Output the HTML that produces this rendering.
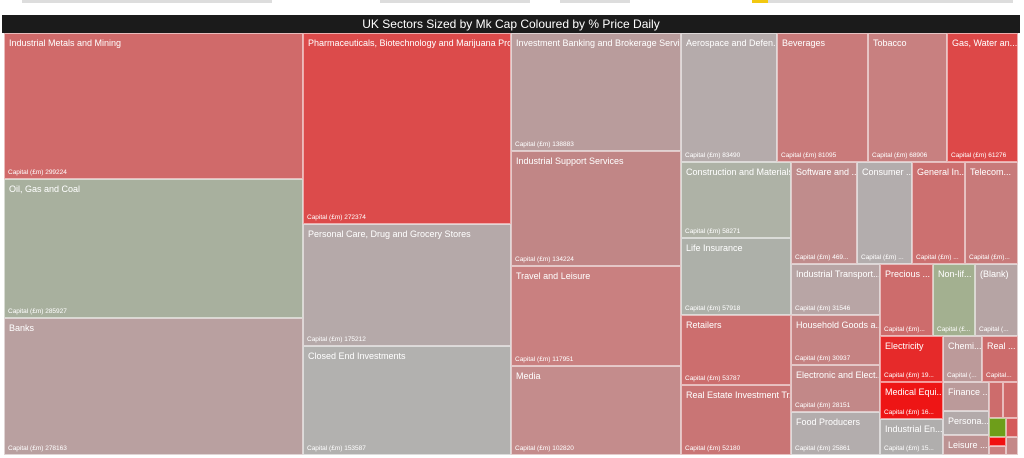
<!DOCTYPE html>
<html><head><meta charset="utf-8"><style>
body{margin:0;width:1024px;height:458px;background:#fff;position:relative;overflow:hidden;font-family:"Liberation Sans",sans-serif}
.r{position:absolute;box-sizing:border-box;border:0.5px solid rgba(255,255,255,.55);color:#fff;overflow:hidden;white-space:nowrap}
.r b{position:absolute;left:4px;top:4px;font-weight:normal;font-size:9px}
.r i{position:absolute;left:3px;bottom:2px;font-style:normal;font-size:6.5px}
.t{position:absolute;left:2px;top:15px;width:1018px;height:18px;background:#1b1b1b;color:#fff;font-size:12px;text-align:center;line-height:18px}
.s{position:absolute;top:0;height:3px;background:#ddd}
</style></head><body>
<div class="s" style="left:22px;width:250px"></div>
<div class="s" style="left:380px;width:150px"></div>
<div class="s" style="left:560px;width:70px"></div>
<div class="s" style="left:752px;width:16px;background:#f2c811"></div>
<div class="s" style="left:768px;width:245px"></div>
<div class="t">UK Sectors Sized by Mk Cap Coloured by % Price Daily</div>

<div class="r" style="left:4px;top:33px;width:299px;height:146px;background:#d06a6a"><b>Industrial Metals and Mining</b><i>Capital (£m) 299224</i></div>
<div class="r" style="left:4px;top:179px;width:299px;height:139px;background:#a8b09e"><b>Oil, Gas and Coal</b><i>Capital (£m) 285927</i></div>
<div class="r" style="left:4px;top:318px;width:299px;height:137px;background:#b9a0a0"><b>Banks</b><i>Capital (£m) 278163</i></div>

<div class="r" style="left:303px;top:33px;width:208px;height:191px;background:#dc4b4b"><b>Pharmaceuticals, Biotechnology and Marijuana Pro...</b><i>Capital (£m) 272374</i></div>
<div class="r" style="left:303px;top:224px;width:208px;height:122px;background:#b5a9a9"><b>Personal Care, Drug and Grocery Stores</b><i>Capital (£m) 175212</i></div>
<div class="r" style="left:303px;top:346px;width:208px;height:109px;background:#b2b1af"><b>Closed End Investments</b><i>Capital (£m) 153587</i></div>

<div class="r" style="left:511px;top:33px;width:170px;height:118px;background:#b99c9c"><b>Investment Banking and Brokerage Servi...</b><i>Capital (£m) 138883</i></div>
<div class="r" style="left:511px;top:151px;width:170px;height:115px;background:#c18686"><b>Industrial Support Services</b><i>Capital (£m) 134224</i></div>
<div class="r" style="left:511px;top:266px;width:170px;height:100px;background:#c98080"><b>Travel and Leisure</b><i>Capital (£m) 117951</i></div>
<div class="r" style="left:511px;top:366px;width:170px;height:89px;background:#c48c8c"><b>Media</b><i>Capital (£m) 102820</i></div>

<div class="r" style="left:681px;top:33px;width:96px;height:129px;background:#b5abab"><b>Aerospace and Defen...</b><i>Capital (£m) 83490</i></div>
<div class="r" style="left:777px;top:33px;width:91px;height:129px;background:#c97a7a"><b>Beverages</b><i>Capital (£m) 81095</i></div>
<div class="r" style="left:868px;top:33px;width:79px;height:129px;background:#c88080"><b>Tobacco</b><i>Capital (£m) 68906</i></div>
<div class="r" style="left:947px;top:33px;width:71px;height:129px;background:#dd4848"><b>Gas, Water an...</b><i>Capital (£m) 61276</i></div>

<div class="r" style="left:681px;top:162px;width:110px;height:76px;background:#aeb2a6"><b>Construction and Materials</b><i>Capital (£m) 58271</i></div>
<div class="r" style="left:681px;top:238px;width:110px;height:77px;background:#adb0a9"><b>Life Insurance</b><i>Capital (£m) 57918</i></div>
<div class="r" style="left:681px;top:315px;width:110px;height:70px;background:#cc6e6e"><b>Retailers</b><i>Capital (£m) 53787</i></div>
<div class="r" style="left:681px;top:385px;width:110px;height:70px;background:#c97575"><b>Real Estate Investment Tr...</b><i>Capital (£m) 52180</i></div>

<div class="r" style="left:791px;top:162px;width:66px;height:102px;background:#c08c8c"><b>Software and ...</b><i>Capital (£m) 469...</i></div>
<div class="r" style="left:857px;top:162px;width:55px;height:102px;background:#b3adad"><b>Consumer ...</b><i>Capital (£m) ...</i></div>
<div class="r" style="left:912px;top:162px;width:53px;height:102px;background:#cc7070"><b>General In...</b><i>Capital (£m) ...</i></div>
<div class="r" style="left:965px;top:162px;width:53px;height:102px;background:#c87a7a"><b>Telecom...</b><i>Capital (£m)...</i></div>

<div class="r" style="left:791px;top:264px;width:89px;height:51px;background:#b8a5a5"><b>Industrial Transport...</b><i>Capital (£m) 31546</i></div>
<div class="r" style="left:791px;top:315px;width:89px;height:50px;background:#c58282"><b>Household Goods a...</b><i>Capital (£m) 30937</i></div>
<div class="r" style="left:791px;top:365px;width:89px;height:47px;background:#c28888"><b>Electronic and Elect...</b><i>Capital (£m) 28151</i></div>
<div class="r" style="left:791px;top:412px;width:89px;height:43px;background:#b3adad"><b>Food Producers</b><i>Capital (£m) 25861</i></div>

<div class="r" style="left:880px;top:264px;width:53px;height:72px;background:#cd6c6c"><b>Precious ...</b><i>Capital (£m)...</i></div>
<div class="r" style="left:933px;top:264px;width:42px;height:72px;background:#a3b090"><b>Non-lif...</b><i>Capital (£...</i></div>
<div class="r" style="left:975px;top:264px;width:43px;height:72px;background:#b6a4a4"><b>(Blank)</b><i>Capital (...</i></div>

<div class="r" style="left:880px;top:336px;width:63px;height:46px;background:#e62a2a"><b>Electricity</b><i>Capital (£m) 19...</i></div>
<div class="r" style="left:880px;top:382px;width:63px;height:37px;background:#ee1515"><b>Medical Equi...</b><i>Capital (£m) 16...</i></div>
<div class="r" style="left:880px;top:419px;width:63px;height:36px;background:#b0aead"><b>Industrial En...</b><i>Capital (£m) 15...</i></div>
<div class="r" style="left:943px;top:336px;width:39px;height:46px;background:#bc9a9a"><b>Chemi...</b><i>Capital (...</i></div>
<div class="r" style="left:982px;top:336px;width:36px;height:46px;background:#cd6c6c"><b>Real ...</b><i>Capital...</i></div>
<div class="r" style="left:943px;top:382px;width:46px;height:29px;background:#bb9a9a"><b>Finance ...</b></div>
<div class="r" style="left:943px;top:411px;width:46px;height:24px;background:#b3aaaa"><b>Persona...</b></div>
<div class="r" style="left:943px;top:435px;width:46px;height:20px;background:#bd9393"><b>Leisure ...</b></div>
<div class="r" style="left:989px;top:382px;width:14px;height:36px;background:#cd6c6c"></div>
<div class="r" style="left:1003px;top:382px;width:15px;height:36px;background:#cf6a6a"></div>
<div class="r" style="left:989px;top:418px;width:17px;height:19px;background:#6e9e1a"></div>
<div class="r" style="left:1006px;top:418px;width:12px;height:19px;background:#d45a5a"></div>
<div class="r" style="left:989px;top:437px;width:17px;height:9px;background:#f01010"></div>
<div class="r" style="left:989px;top:446px;width:17px;height:9px;background:#c98080"></div>
<div class="r" style="left:1006px;top:437px;width:12px;height:18px;background:#c48888"></div>
</body></html>
